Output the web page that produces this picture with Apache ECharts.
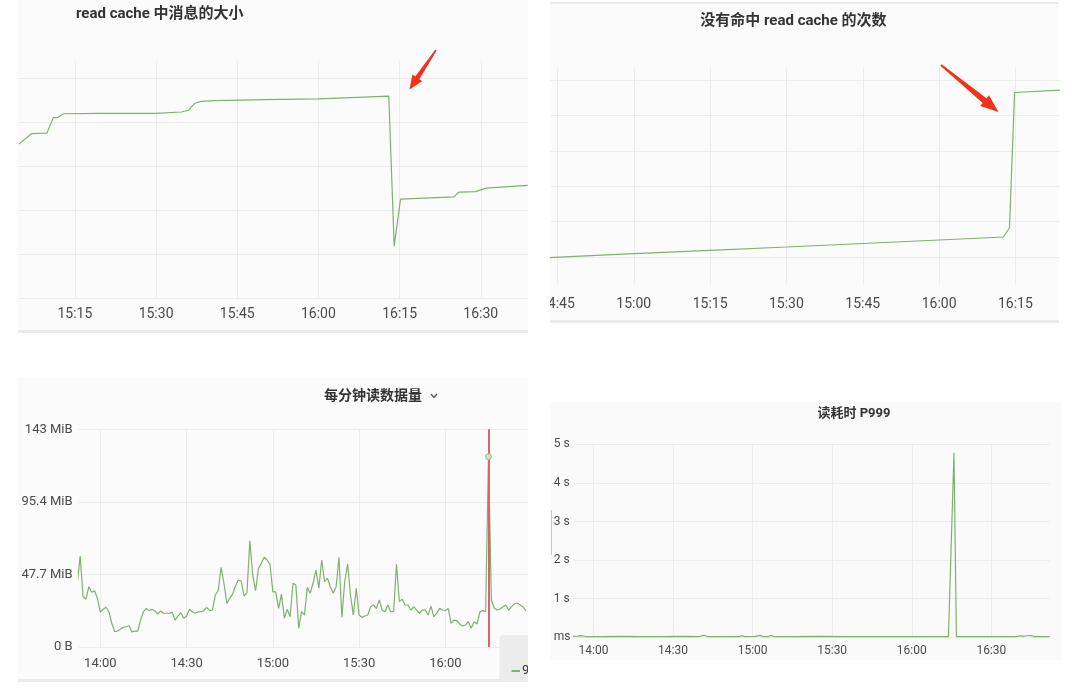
<!DOCTYPE html>
<html>
<head>
<meta charset="utf-8">
<script src="https://cdn.jsdelivr.net/npm/echarts@6/dist/echarts.min.js"></script>
<style>
html, body { margin: 0; padding: 0; background: #fff; }
#main { width: 1080px; height: 698px; }
</style>
</head>
<body>
<div id="main"></div>
<script>
// read cache 中消息的大小 (无刻度，相对值)
var cacheTimes = ['15:04:40', '15:07', '15:09:50', '15:11', '15:11:45', '15:12:55', '15:20', '15:30',
    '15:34:40', '15:36', '15:37:10', '15:38:20', '15:40:50', '15:50', '16:00', '16:13', '16:14',
    '16:15:10', '16:25', '16:26', '16:29', '16:31', '16:38:40'];
var cacheSize = [350, 374, 375, 410, 410, 419, 420, 420, 423, 427, 443, 447, 449, 451, 453, 459, 118,
    225, 230, 241, 242, 250, 256];

// 没有命中 read cache 的次数
var missTimes = ['14:43', '15:00', '15:15', '15:30', '15:45', '16:00', '16:12:36', '16:13:50', '16:14:50', '16:23:45'];
var missCount = [980, 1093, 1189, 1282, 1381, 1480, 1565, 1819, 5647, 5715];

// 每分钟读数据量 (MiB)，从 13:52 起每分钟一个点
var readStart = '13:52';
var readMiB = [41.9, 59.8, 33.1, 31.4, 39.6, 36.0, 37.0, 32.0, 23.0, 24.8,
    26.1, 23.2, 15.6, 10.1, 10.5, 11.8, 12.9, 13.3, 14.0, 9.9,
    10.5, 10.5, 17.7, 23.2, 25.4, 23.9, 24.8, 23.7, 21.7, 23.7,
    22.2, 22.2, 22.3, 22.8, 17.7, 20.4, 22.5, 18.9, 20.4, 24.8,
    23.2, 22.2, 23.0, 23.2, 23.9, 26.1, 23.9, 24.3, 34.2, 37.0,
    52.4, 41.9, 28.7, 32.0, 34.8, 40.1, 44.0, 43.4, 33.5, 35.7,
    69.9, 47.3, 37.0, 51.7, 55.0, 59.0, 57.2, 54.4, 36.3, 36.3,
    25.4, 34.8, 18.9, 24.8, 19.9, 41.9, 40.8, 12.3, 23.2, 21.0,
    39.2, 35.3, 41.9, 50.6, 38.6, 57.2, 42.9, 45.2, 39.6, 35.3,
    39.6, 59.0, 19.5, 42.9, 54.6, 34.2, 21.0, 38.6, 21.0, 19.5,
    20.4, 21.0, 26.5, 27.6, 25.4, 30.9, 24.3, 23.2, 27.6, 23.2,
    23.2, 54.4, 29.8, 31.4, 27.6, 27.6, 24.3, 26.5, 24.3, 22.2,
    24.3, 24.3, 21.0, 26.9, 19.9, 22.2, 25.4, 24.3, 23.9, 25.4,
    15.6, 17.7, 17.3, 15.1, 13.8, 14.5, 16.6, 12.3, 16.6, 15.1,
    23.0, 23.9, 23.2, 125.1, 30.9, 25.6, 24.3, 25.0, 26.3, 27.6,
    24.3, 26.5, 28.3, 28.9, 27.6, 26.3, 23.7];
var readMarkTime = '16:15:15';
var readYLabels = ['0 B', '47.7 MiB', '95.4 MiB', '143 MiB'];

// 读耗时 P999 (秒)
var p999Times = ['13:52', '13:54', '13:55:20', '13:57', '14:03', '14:10', '14:18', '14:26', '14:34', '14:40',
    '14:41:50', '14:43', '14:50', '14:55', '14:56', '14:57', '15:01', '15:02:50', '15:04', '15:06',
    '15:07', '15:08', '15:15', '15:25', '15:35', '15:45', '15:55', '16:05', '16:13:50', '16:15:55',
    '16:16:50', '16:25', '16:35', '16:40', '16:41', '16:42', '16:43:20', '16:44', '16:45:10', '16:46',
    '16:52'];
var p999Sec = [0.02, 0.03, 0.045, 0.02, 0.02, 0.025, 0.02, 0.02, 0.025, 0.02,
    0.055, 0.02, 0.02, 0.02, 0.045, 0.02, 0.025, 0.05, 0.02, 0.02,
    0.05, 0.02, 0.02, 0.025, 0.02, 0.02, 0.02, 0.02, 0.02, 4.78,
    0.02, 0.02, 0.02, 0.02, 0.045, 0.025, 0.04, 0.025, 0.045, 0.02,
    0.02];
var p999YLabels = ['ms', '1 s', '2 s', '3 s', '4 s', '5 s'];

var dom = document.getElementById('main');
var myChart = echarts.init(dom);

var FONT = 'Roboto, "Noto Sans CJK SC", sans-serif';
var GREEN = '#7eb26d';
var GRID_LINE = '#ececec';
var LABEL = '#4a4a4a';

function toMin(s) {
    var p = s.split(':');
    return +p[0] * 60 + +p[1] + (p[2] ? +p[2] / 60 : 0);
}
function hhmm(v) {
    var h = Math.floor(v / 60), m = Math.round(v - h * 60);
    if (m === 60) { h++; m = 0; }
    return (h < 10 ? '0' : '') + h + ':' + (m < 10 ? '0' : '') + m;
}
function pairs(times, values) {
    return times.map(function (t, i) { return [toMin(t), values[i]]; });
}
var readData = readMiB.map(function (v, i) { return [toMin(readStart) + i, v]; });

function timeAxis(gridIndex, min, max, step, fontSize, margin) {
    return {
        type: 'value', gridIndex: gridIndex, min: min, max: max,
        minInterval: step, maxInterval: step,
        axisLine: { show: false }, axisTick: { show: false },
        axisLabel: {
            showMinLabel: false, showMaxLabel: false, formatter: hhmm,
            fontSize: fontSize, color: LABEL, margin: margin, fontFamily: FONT
        },
        splitLine: { show: true, showMinLine: false, showMaxLine: false, lineStyle: { color: GRID_LINE } }
    };
}

function lineSeries(idx, data) {
    return {
        type: 'line', xAxisIndex: idx, yAxisIndex: idx, data: data,
        showSymbol: false, silent: true, animation: false,
        lineStyle: { color: GREEN, width: 1.2 }, itemStyle: { color: GREEN }
    };
}

// 红色箭头 (标注)
function arrow(x1, y1, x2, y2, headLen, headW, tailW, neckW) {
    var dx = x2 - x1, dy = y2 - y1, L = Math.sqrt(dx * dx + dy * dy);
    var ux = dx / L, uy = dy / L, nx = -uy, ny = ux;
    var cx = x2 - ux * headLen, cy = y2 - uy * headLen;
    var pts = [
        [x1 + nx * tailW / 2, y1 + ny * tailW / 2],
        [cx + nx * neckW / 2, cy + ny * neckW / 2],
        [cx + nx * headW / 2, cy + ny * headW / 2],
        [x2, y2],
        [cx - nx * headW / 2, cy - ny * headW / 2],
        [cx - nx * neckW / 2, cy - ny * neckW / 2],
        [x1 - nx * tailW / 2, y1 - ny * tailW / 2]
    ];
    return { type: 'polygon', z: 50, shape: { points: pts }, style: { fill: '#f2321c' } };
}

function title(text, x, y, size, align) {
    return {
        type: 'text', x: x, y: y, z: 50,
        style: { text: text, fontSize: size, fontWeight: 'bold', fill: '#333', fontFamily: FONT, align: align, verticalAlign: 'middle' }
    };
}
function rect(x, y, w, h, fill, z) {
    return { type: 'rect', z: z, shape: { x: x, y: y, width: w, height: h }, style: { fill: fill } };
}

option = {
    backgroundColor: '#fff',
    animation: false,
    textStyle: { fontFamily: FONT },
    grid: [
        { left: 18.6, right: 552.4, top: 61, bottom: 400 },
        { left: 550.3, right: 20.3, top: 67, bottom: 413 },
        { left: 78.6, right: 552.4, top: 429.3, bottom: 51 },
        { left: 573.8, right: 30.3, top: 444.3, bottom: 60.7 }
    ],
    xAxis: [
        timeAxis(0, 904.6, 998.65, 15, 14, 10),
        timeAxis(1, 883.6, 983.7, 15, 14, 13),
        timeAxis(2, 832.45, 988.6, 30, 13, 10),
        timeAxis(3, 832.6, 1012, 30, 12, 8)
    ],
    yAxis: [
        {
            type: 'value', gridIndex: 0, min: 0, max: 539, interval: 100,
            axisLine: { show: false }, axisTick: { show: false }, axisLabel: { show: false },
            splitLine: { showMaxLine: false, lineStyle: { color: GRID_LINE } }
        },
        {
            type: 'value', gridIndex: 1, min: 209, max: 6367, minInterval: 1000, maxInterval: 1000,
            axisLine: { show: false }, axisTick: { show: false }, axisLabel: { show: false },
            splitLine: { showMinLine: false, showMaxLine: false, lineStyle: { color: GRID_LINE } }
        },
        {
            type: 'value', gridIndex: 2, min: 0, max: 143.1, interval: 47.7,
            axisLine: { show: false }, axisTick: { show: false },
            axisLabel: {
                fontSize: 13, color: LABEL, margin: 6, fontFamily: FONT,
                formatter: function (v) { return readYLabels[Math.round(v / 47.7)]; }
            },
            splitLine: { lineStyle: { color: GRID_LINE } }
        },
        {
            type: 'value', gridIndex: 3, min: 0, max: 5, interval: 1,
            axisLine: { show: false }, axisTick: { show: false },
            axisLabel: {
                fontSize: 12, color: LABEL, margin: 20, align: 'left', fontFamily: FONT,
                formatter: function (v) { return p999YLabels[Math.round(v)]; }
            },
            splitLine: { lineStyle: { color: GRID_LINE } }
        }
    ],
    series: [
        lineSeries(0, pairs(cacheTimes, cacheSize)),
        lineSeries(1, pairs(missTimes, missCount)),
        Object.assign(lineSeries(2, readData), {
            markLine: {
                silent: true, symbol: 'none', label: { show: false },
                lineStyle: { color: '#e0606c', width: 2, type: 'solid' },
                data: [{ xAxis: toMin(readMarkTime) }]
            },
            markPoint: {
                silent: true, symbol: 'circle', symbolSize: 6, label: { show: false },
                itemStyle: { color: '#cfe0c4', borderColor: '#93c381', borderWidth: 1 },
                data: [{ type: 'max' }]
            }
        }),
        lineSeries(3, pairs(p999Times, p999Sec))
    ],
    graphic: [
        // 面板底色与分隔线
        rect(18, 0, 510, 331, '#fbfbfb', -10),
        rect(18, 330, 510, 3, '#ebebeb', -9),
        rect(550, 4, 509, 316, '#fbfbfb', -10),
        rect(550, 2, 509, 2, '#ededed', -9),
        rect(550, 320, 509, 3, '#ebebeb', -9),
        rect(18, 377, 510, 302, '#fbfbfb', -10),
        rect(18, 679, 510, 3, '#ebebeb', -9),
        rect(550, 402, 511, 258, '#fafafa', -10),
        // 标题
        title('read cache 中消息的大小', 76, 14, 15, 'left'),
        title('没有命中 read cache 的次数', 793.4, 21, 15, 'center'),
        title('每分钟读数据量', 373, 396, 14, 'center'),
        {
            type: 'polyline', z: 50, shape: { points: [[431, 394], [434, 397.5], [437, 394]] },
            style: { stroke: '#555', lineWidth: 1.3, fill: null }
        },
        title('读耗时 P999', 854, 414, 13, 'center'),
        // 箭头
        arrow(436, 50, 409.5, 89.5, 14, 12, 1.5, 5),
        arrow(941, 65, 998.5, 112, 18, 14, 2, 6),
        // 图例残片
        { type: 'rect', z: 40, shape: { x: 499.5, y: 635, width: 40, height: 46, r: 4 }, style: { fill: '#ececec' } },
        { type: 'line', z: 41, shape: { x1: 511.5, y1: 671, x2: 520, y2: 671 }, style: { stroke: GREEN, lineWidth: 2 } },
        { type: 'text', z: 41, x: 522, y: 671, style: { text: '9', fontSize: 13, fill: '#333', fontFamily: FONT, verticalAlign: 'middle' } },
        // 滚动条残片
        { type: 'line', z: 41, shape: { x1: 551.5, y1: 510, x2: 551.5, y2: 555 }, style: { stroke: '#c8c8c8', lineWidth: 1 } },
        // 截图间隙
        rect(528, 0, 22, 698, '#fff', 100)
    ]
};

if (option && typeof option === 'object') {
    myChart.setOption(option, true);
}
</script>
</body>
</html>
